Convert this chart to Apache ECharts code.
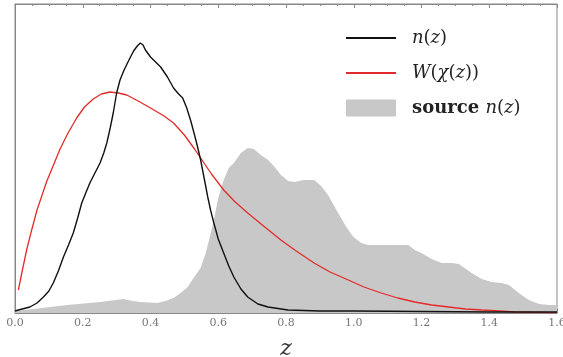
<!DOCTYPE html>
<html>
<head>
<meta charset="utf-8">
<script src="https://cdn.jsdelivr.net/npm/echarts@6/dist/echarts.min.js"></script>
<style>html,body{margin:0;padding:0;background:#fff}#c{width:563px;height:357px}</style>
</head>
<body>
<div id="c"></div>
<script>
// Tick labels on the z axis
const xTicks = [0.0, 0.2, 0.4, 0.6, 0.8, 1.0, 1.2, 1.4, 1.6];

// n(z) (black line)
const nZ = [0.000,0.010,0.044,0.065,0.084,0.100,0.113,0.128,0.143,0.158,0.172,0.185,0.197,0.210,0.221,0.236,0.251,0.262,0.271,0.281,0.290,0.300,0.310,0.322,0.335,0.350,0.361,0.370,0.378,0.385,0.400,0.415,0.430,0.450,0.468,0.483,0.495,0.507,0.519,0.530,0.539,0.548,0.560,0.569,0.578,0.587,0.600,0.616,0.631,0.646,0.667,0.687,0.717,0.747,0.806,0.900,1.000,1.200,1.400,1.600];
const nV = [2,3,6,10,16,22,30,42,56,68,80,95,110,121,130,140,150,160,170,185,200,220,233,243,252,262,267,270,268,263,256,251,246,236,225,219,215,205,192,178,166,153,132,116,102,90,74,60,47,36,24,16,9,6,3,2,2,1.5,1,1];

// W(chi(z)) (red line)
const wZ = [0.010,0.020,0.035,0.050,0.065,0.080,0.094,0.110,0.133,0.155,0.182,0.205,0.231,0.255,0.280,0.305,0.330,0.369,0.400,0.440,0.468,0.500,0.530,0.548,0.580,0.616,0.650,0.687,0.730,0.785,0.830,0.883,0.930,0.984,1.030,1.081,1.130,1.180,1.230,1.280,1.330,1.378,1.430,1.476,1.540,1.600];
const wV = [23,40,64,84,103,118,132,145,164,179,195,206,214,219,221,220,218,211,205,197,190,178,164,155,139,123,111,100,88,73,62,50,41,33,26,20,15,11,8,6,4,3,2,1,0.6,0.3];

// source n(z) (grey area)
const sZ = [0.000,0.080,0.154,0.252,0.320,0.347,0.370,0.420,0.444,0.468,0.489,0.510,0.527,0.548,0.563,0.578,0.587,0.600,0.616,0.631,0.646,0.667,0.687,0.705,0.726,0.747,0.764,0.785,0.806,0.824,0.853,0.883,0.904,0.924,0.954,0.978,0.999,1.022,1.043,1.102,1.141,1.161,1.180,1.200,1.230,1.260,1.289,1.310,1.327,1.348,1.378,1.407,1.437,1.458,1.487,1.517,1.547,1.576,1.600];
const sV = [2,5,8,11,14,12,11,10,12,15,20,26,35,45,60,80,93,115,133,145,150,160,165,164,158,153,147,138,132,131,133,133,127,118,100,86,76,70,68,68,68,68,63,60,54,50,50,49,45,40,34,31,30,28,20,13,9,8,8];

const zip = (a, b) => a.map((x, i) => [x, b[i]]);

const serif = '"DejaVu Serif","Liberation Serif",serif';
const chart = echarts.init(document.getElementById('c'), null, {renderer: 'canvas'});
const legendText = {
  'n(z)': '{i|n}{r|(}{i|z}{r|)}',
  'W(χ(z))': '{i|W}{r|(}{i|χ}{r|(}{i|z}{r|))}',
  'source n(z)': '{b|source }{i|n}{r|(}{i|z}{r|)}'
};
chart.setOption({
  animation: false,
  backgroundColor: '#fff',
  grid: {left: 15, right: 6, top: 4, bottom: 44, outerBoundsMode: 'none', containLabel: false,
    show: true, borderColor: '#888', borderWidth: 1},
  legend: {
    orient: 'vertical', left: 345, top: 29, padding: 0,
    itemWidth: 50, itemHeight: 17, itemGap: 17,
    data: [
      {name: 'n(z)', itemStyle: {opacity: 0}},
      {name: 'W(χ(z))', itemStyle: {opacity: 0}},
      {name: 'source n(z)', icon: 'rect'}
    ],
    formatter: name => legendText[name],
    textStyle: {
      fontFamily: serif, fontSize: 18, color: '#222', padding: [0, 0, 0, 11],
      rich: {
        i: {fontFamily: serif, fontStyle: 'italic', fontSize: 18, color: '#222'},
        r: {fontFamily: serif, fontSize: 18, color: '#222'},
        b: {fontFamily: serif, fontWeight: 'bold', fontSize: 18, color: '#222'}
      }
    }
  },
  xAxis: [{
    type: 'value', min: 0, max: 1.6, interval: 0.2,
    name: 'z', nameLocation: 'middle', nameGap: 25,
    nameTextStyle: {fontFamily: serif, fontStyle: 'italic', fontSize: 22, color: '#333'},
    axisLine: {show: true, lineStyle: {color: '#888'}},
    axisTick: {show: true, inside: true, length: 4, lineStyle: {color: '#888'}},
    minorTick: {show: true, splitNumber: 4, length: 2, lineStyle: {color: '#888'}},
    splitLine: {show: false},
    axisLabel: {fontFamily: serif, fontSize: 11, color: '#777', margin: 5,
      formatter: v => { const t = xTicks.find(k => Math.abs(k - v) < 1e-6); return t === undefined ? '' : t.toFixed(1); }}
  }, {
    type: 'value', min: 0, max: 1.6, interval: 0.2, position: 'top',
    axisLine: {show: true, lineStyle: {color: '#888'}},
    axisTick: {show: true, inside: true, length: 4, lineStyle: {color: '#888'}},
    minorTick: {show: true, splitNumber: 4, length: 2, lineStyle: {color: '#888'}},
    splitLine: {show: false}, axisLabel: {show: false}
  }],
  yAxis: {
    type: 'value', min: 0, max: 309,
    axisLine: {show: true, lineStyle: {color: '#888'}},
    axisTick: {show: false}, axisLabel: {show: false}, splitLine: {show: false}
  },
  series: [
    {name: 'source n(z)', type: 'line', data: zip(sZ, sV), symbol: 'none',
      lineStyle: {width: 0, color: '#c8c8c8'}, itemStyle: {color: '#c8c8c8'},
      areaStyle: {color: '#c8c8c8', opacity: 1}, z: 1},
    {name: 'W(χ(z))', type: 'line', data: zip(wZ, wV), symbol: 'none',
      lineStyle: {width: 1.3, color: '#e32b2b'}, itemStyle: {color: '#e32b2b'}, z: 2},
    {name: 'n(z)', type: 'line', data: zip(nZ, nV), symbol: 'none',
      lineStyle: {width: 1.4, color: '#111'}, itemStyle: {color: '#111'}, z: 3}
  ]
});
</script>
</body>
</html>
